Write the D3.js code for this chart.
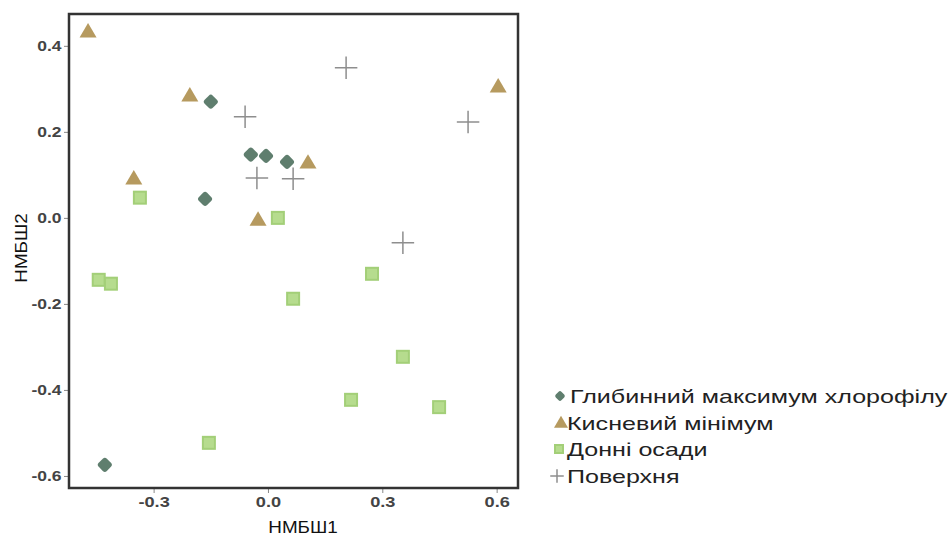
<!DOCTYPE html>
<html>
<head>
<meta charset="utf-8">
<script src="https://cdn.jsdelivr.net/npm/d3@7"></script>
<style>
  body { margin: 0; background: #fff; }
  .tick text { font-family: "Liberation Sans", Arial, sans-serif; font-weight: bold; fill: #444; font-size: 14px; }
  .tick line { stroke: #888; }
</style>
</head>
<body>
<script>
// NMDS ordination scores
var groups = ["Глибинний максимум хлорофілу", "Кисневий мінімум", "Донні осади", "Поверхня"];

var dcmX = [-0.150, -0.045, -0.005, 0.050, -0.165, -0.428];
var dcmY = [0.270, 0.147, 0.144, 0.130, 0.044, -0.574];

var omzX = [-0.472, -0.205, -0.352, -0.026, 0.105, 0.604];
var omzY = [0.433, 0.284, 0.091, -0.005, 0.128, 0.305];

var sedX = [-0.336, -0.444, -0.412, 0.026, 0.066, -0.155, 0.273, 0.354, 0.218, 0.449];
var sedY = [0.047, -0.144, -0.153, 0.000, -0.188, -0.523, -0.130, -0.323, -0.423, -0.440];

var surfX = [-0.060, -0.029, 0.066, 0.205, 0.525, 0.354];
var surfY = [0.235, 0.093, 0.091, 0.349, 0.223, -0.058];

var xTicks = [-0.3, 0.0, 0.3, 0.6];
var yTicks = [-0.6, -0.4, -0.2, 0.0, 0.2, 0.4];

var series = [
    {name: groups[0], xs: dcmX, ys: dcmY, shape: "diamond", fill: "#5f7e6e"},
    {name: groups[1], xs: omzX, ys: omzY, shape: "triangle", fill: "#b69a5f"},
    {name: groups[2], xs: sedX, ys: sedY, shape: "square", fill: "#b6dc8e"},
    {name: groups[3], xs: surfX, ys: surfY, shape: "cross", fill: "#8e8e8e"}
];

var svg = d3.select("body").append("svg")
    .attr("width", 950)
    .attr("height", 536);

var plotL = 69, plotT = 14, plotR = 518, plotB = 488;

var x = d3.scaleLinear().domain([-0.522, 0.656]).range([plotL, plotR]);
var y = d3.scaleLinear().domain([-0.628, 0.474]).range([plotB, plotT]);

var fmt = function (d) { return d3.format(".1f")(d).replace("\u2212", "-"); };

svg.append("g")
    .attr("transform", "translate(" + plotL + ",0)")
    .call(d3.axisLeft(y).tickValues(yTicks).tickFormat(fmt).tickSize(5).tickPadding(2))
    .call(function (g) {
        g.select(".domain").remove();
        g.selectAll(".tick text").attr("x", -6).attr("transform", "scale(1.25,1)");
    });

svg.append("g")
    .attr("transform", "translate(0," + plotB + ")")
    .call(d3.axisBottom(x).tickValues(xTicks).tickFormat(fmt).tickSize(5).tickPadding(4))
    .call(function (g) {
        g.select(".domain").remove();
        g.selectAll(".tick text").attr("transform", "scale(1.3,1)");
    });

svg.append("rect")
    .attr("x", plotL).attr("y", plotT)
    .attr("width", plotR - plotL).attr("height", plotB - plotT)
    .attr("fill", "none").attr("stroke", "#333").attr("stroke-width", 2.5);

function drawMark(g, shape, fill, s) {
    if (shape == "diamond") {
        var a = s * 0.72;
        g.append("rect")
            .attr("x", -a / 2).attr("y", -a / 2)
            .attr("width", a).attr("height", a)
            .attr("rx", a * 0.25)
            .attr("transform", "rotate(45)")
            .attr("fill", fill);
    } else if (shape == "triangle") {
        var h = s * 0.85;
        g.append("path")
            .attr("d", "M0," + (-h * 0.6) + "L" + (s / 2) + "," + (h * 0.4) + "L" + (-s / 2) + "," + (h * 0.4) + "Z")
            .attr("fill", fill);
    } else if (shape == "square") {
        g.append("rect")
            .attr("x", -s / 2 + 1).attr("y", -s / 2 + 1)
            .attr("width", s - 2).attr("height", s - 2)
            .attr("fill", fill).attr("stroke", "#a3cf78").attr("stroke-width", 2);
    } else {
        var r = s * 0.75;
        g.append("path")
            .attr("d", "M" + (-r) + ",0H" + r + "M0," + (-r) + "V" + r)
            .attr("stroke", fill).attr("stroke-width", 1.5).attr("fill", "none");
    }
}

var sizes = {diamond: 16, triangle: 17, square: 14, cross: 15};

series.forEach(function (sr) {
    sr.xs.forEach(function (xv, i) {
        var g = svg.append("g")
            .attr("transform", "translate(" + x(xv) + "," + y(sr.ys[i]) + ")");
        drawMark(g, sr.shape, sr.fill, sizes[sr.shape]);
    });
});

// axis titles
svg.append("text")
    .attr("transform", "translate(303,533) scale(1.18,1)")
    .attr("text-anchor", "middle")
    .style("font-family", "Liberation Sans, Arial, sans-serif")
    .style("font-size", "16px").attr("fill", "#111")
    .text("НМБШ1");

svg.append("text")
    .attr("transform", "translate(27,248) rotate(-90) scale(1.18,1)")
    .attr("text-anchor", "middle")
    .style("font-family", "Liberation Sans, Arial, sans-serif")
    .style("font-size", "16px").attr("fill", "#111")
    .text("НМБШ2");

// legend
var legendY = [396, 423, 449, 476];
var legendMarkX = [560, 561, 559, 557];
var legendSize = {diamond: 11, triangle: 14, square: 10, cross: 9};

series.forEach(function (sr, i) {
    var g = svg.append("g")
        .attr("transform", "translate(" + legendMarkX[i] + "," + legendY[i] + ")");
    drawMark(g, sr.shape, sr.fill, legendSize[sr.shape]);
    svg.append("text")
        .attr("transform", "translate(" + (i == 0 ? 570 : 567) + "," + (legendY[i] + 7) + ") scale(1.32,1)")
        .style("font-family", "Liberation Sans, Arial, sans-serif")
        .style("font-size", "19px").attr("fill", "#222")
        .text(sr.name);
});
</script>
</body>
</html>
